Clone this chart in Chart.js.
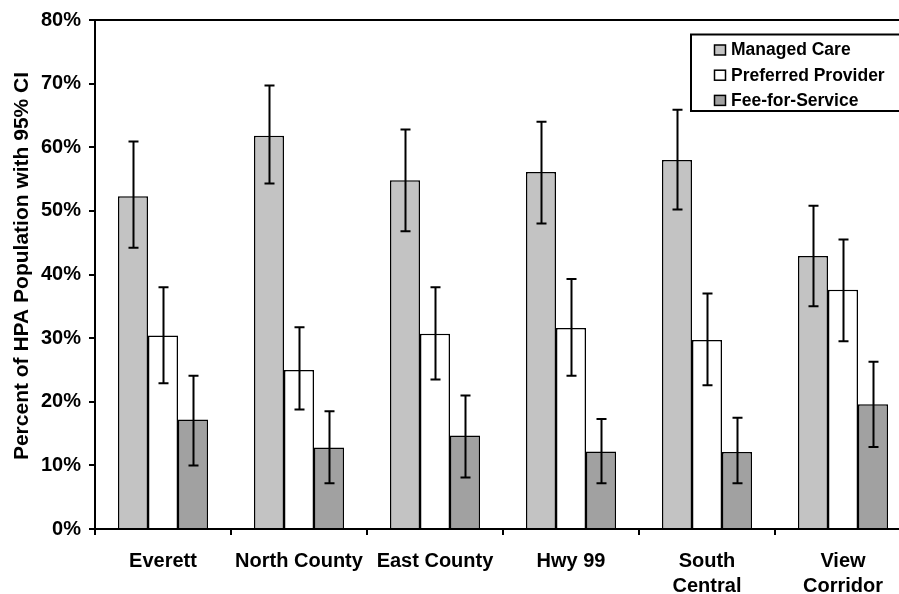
<!DOCTYPE html>
<html>
<head>
<meta charset="utf-8">
<title>HPA population by region</title>
<script src="https://cdn.jsdelivr.net/npm/chart.js@4.4.1/dist/chart.umd.min.js"></script>
<style>
  html, body { margin: 0; padding: 0; background: #ffffff; overflow: hidden; width: 899px; height: 594px; }
  canvas { display: block; }
</style>
</head>
<body>
<canvas id="c" width="920" height="594"></canvas>
<script>
// Regions and series (percent of HPA population), with 95% confidence limits
const categories = ['Everett', 'North County', 'East County', 'Hwy 99', ['South', 'Central'], ['View', 'Corridor']];
const seriesNames = ['Managed Care', 'Preferred Provider', 'Fee-for-Service'];

const managedCare     = [52.3, 61.8, 54.8, 56.1, 58.0, 42.9];
const managedCareLow  = [44.2, 54.3, 46.8, 48.0, 50.2, 35.0];
const managedCareHigh = [60.9, 69.7, 62.8, 64.0, 65.9, 50.8];

const preferred     = [30.4, 25.0, 30.7, 31.6, 29.7, 37.6];
const preferredLow  = [22.9, 18.8, 23.5, 24.1, 22.6, 29.5];
const preferredHigh = [38.0, 31.7, 38.0, 39.3, 37.0, 45.5];

const feeForService     = [17.2, 12.8, 14.7, 12.2, 12.1, 19.6];
const feeForServiceLow  = [10.0,  7.2,  8.1,  7.2,  7.2, 12.9];
const feeForServiceHigh = [24.1, 18.5, 21.0, 17.3, 17.5, 26.3];

const yTickLabels = ['0%', '10%', '20%', '30%', '40%', '50%', '60%', '70%', '80%'];
const yTitle = 'Percent of HPA Population with 95% CI';

const FONT = '"Liberation Sans", Arial, sans-serif';

// Vertical error bars with flat caps, drawn from each dataset's low/high arrays
const errorBars = {
  id: 'errorBars',
  afterDatasetsDraw(chart) {
    const ctx = chart.ctx;
    const y = chart.scales.y;
    ctx.save();
    ctx.strokeStyle = '#000';
    ctx.lineWidth = 2;
    chart.data.datasets.forEach((ds, i) => {
      const meta = chart.getDatasetMeta(i);
      meta.data.forEach((bar, j) => {
        const x = Math.round(bar.x) + 0.5;
        const yHi = y.getPixelForValue(ds.errHigh[j]);
        const yLo = y.getPixelForValue(ds.errLow[j]);
        ctx.beginPath();
        ctx.moveTo(x, yHi); ctx.lineTo(x, yLo);
        ctx.moveTo(x - 5, yHi); ctx.lineTo(x + 5, yHi);
        ctx.moveTo(x - 5, yLo); ctx.lineTo(x + 5, yLo);
        ctx.stroke();
      });
    });
    ctx.restore();
  }
};

// Top edge of the plot frame and the rotated value-axis title
const frameAndTitle = {
  id: 'frameAndTitle',
  afterDraw(chart) {
    const { ctx, chartArea } = chart;
    ctx.save();
    ctx.strokeStyle = '#000';
    ctx.lineWidth = 2;
    ctx.beginPath();
    ctx.moveTo(chartArea.left, chartArea.top);
    ctx.lineTo(chartArea.right, chartArea.top);
    ctx.stroke();

    ctx.translate(22, 266);
    ctx.rotate(-Math.PI / 2);
    ctx.font = 'bold 21px ' + FONT;
    ctx.fillStyle = '#000';
    ctx.textAlign = 'center';
    ctx.textBaseline = 'middle';
    ctx.fillText(yTitle, 0, 0);
    ctx.restore();
  }
};

// Boxed legend inside the plot, upper right
const boxedLegend = {
  id: 'boxedLegend',
  afterDraw(chart) {
    const ctx = chart.ctx;
    const left = 691, top = 34.5, bottom = 111;
    ctx.save();
    ctx.fillStyle = '#fff';
    ctx.strokeStyle = '#000';
    ctx.lineWidth = 2;
    ctx.fillRect(left, top, chart.width - left + 10, bottom - top);
    ctx.strokeRect(left, top, chart.width - left + 10, bottom - top);
    ctx.font = 'bold 17.5px ' + FONT;
    ctx.textBaseline = 'middle';
    ctx.textAlign = 'left';
    chart.data.datasets.forEach((ds, i) => {
      const cy = 50 + i * 25.2;
      ctx.fillStyle = ds.backgroundColor;
      ctx.fillRect(714.5, cy - 5, 11, 10);
      ctx.lineWidth = 1.5;
      ctx.strokeRect(714.5, cy - 5, 11, 10);
      ctx.fillStyle = '#000';
      ctx.fillText(ds.label, 731, cy + 0.5);
    });
    ctx.restore();
  }
};

new Chart(document.getElementById('c'), {
  type: 'bar',
  data: {
    labels: categories,
    datasets: [
      { label: seriesNames[0], data: managedCare, errLow: managedCareLow, errHigh: managedCareHigh, backgroundColor: '#c3c3c3' },
      { label: seriesNames[1], data: preferred, errLow: preferredLow, errHigh: preferredHigh, backgroundColor: '#ffffff' },
      { label: seriesNames[2], data: feeForService, errLow: feeForServiceLow, errHigh: feeForServiceHigh, backgroundColor: '#a1a1a1' }
    ]
  },
  options: {
    responsive: false,
    animation: false,
    devicePixelRatio: 1,
    layout: { padding: { top: 19, right: 9, bottom: 0, left: 0 } },
    datasets: {
      bar: {
        categoryPercentage: 0.662,
        barPercentage: 1.0,
        borderColor: '#000',
        borderWidth: 1.5
      }
    },
    plugins: {
      legend: { display: false },
      tooltip: { enabled: false }
    },
    scales: {
      x: {
        afterFit(scale) { scale.height = 65; },
        grid: { drawOnChartArea: false, drawTicks: true, tickLength: 6, color: '#000', lineWidth: 2, offset: true },
        border: { color: '#000', width: 2 },
        ticks: {
          color: '#000',
          padding: 14,
          maxRotation: 0,
          autoSkip: false,
          font: { family: FONT, size: 20, weight: 'bold', lineHeight: 1.25 }
        }
      },
      y: {
        min: 0,
        max: 80,
        afterFit(scale) { scale.width = 95; },
        grid: { drawOnChartArea: false, drawTicks: true, tickLength: 6, color: '#000', lineWidth: 2 },
        border: { color: '#000', width: 2 },
        ticks: {
          stepSize: 10,
          color: '#000',
          padding: 8,
          font: { family: FONT, size: 20, weight: 'bold' },
          callback: (v, i) => yTickLabels[i]
        }
      }
    }
  },
  plugins: [errorBars, frameAndTitle, boxedLegend]
});
</script>
</body>
</html>
